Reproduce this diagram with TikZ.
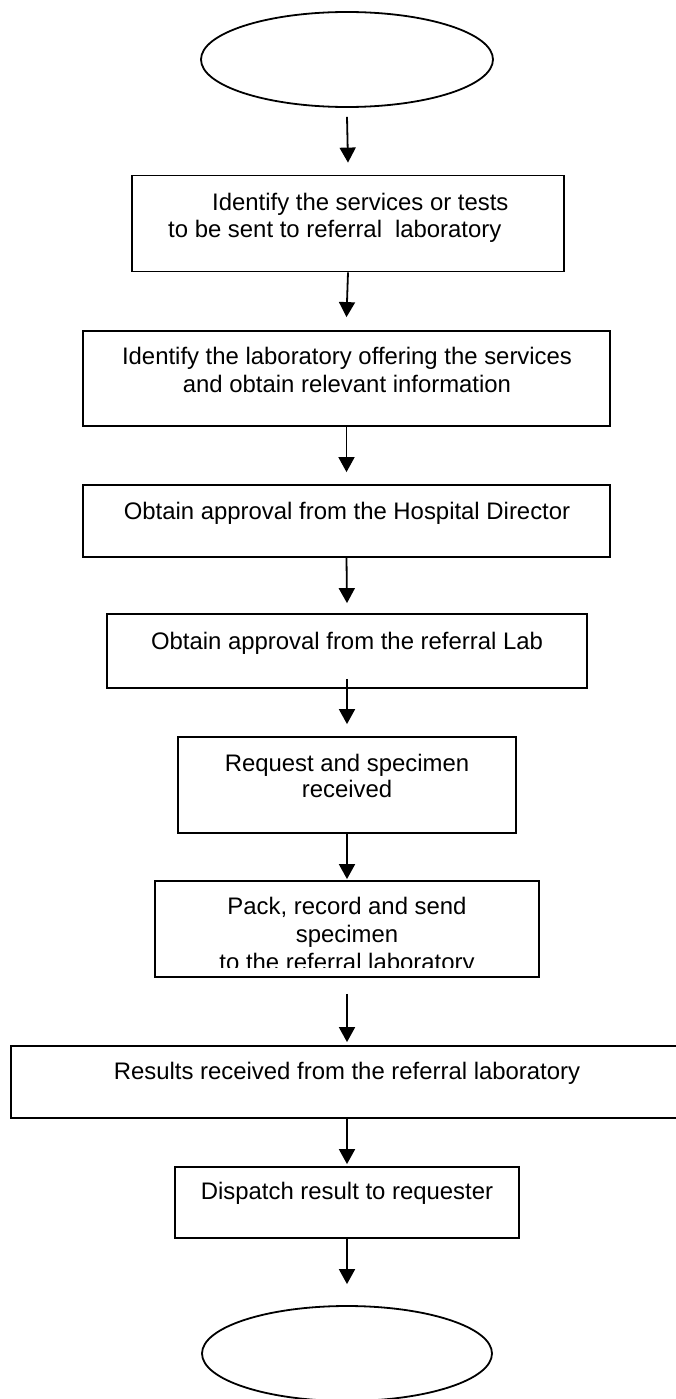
\documentclass[tikz,border=0pt]{standalone}
\usepackage{fontspec}
\setmainfont{Liberation Sans}
\usetikzlibrary{arrows.meta,calc,shapes.geometric}
\tikzset{
  box/.style={draw=black, line width=1.8pt, rectangle, inner sep=0pt},
  term/.style={draw=black, line width=1.8pt, ellipse, inner sep=0pt},
  txt/.style={inner sep=0pt, font=\fontsize{23.9}{28}\selectfont, anchor=base},
  arr/.style={line width=1.8pt, -{Triangle[width=16pt,length=15pt]}}
}
\begin{document}
\begin{tikzpicture}[x=1pt,y=-1pt]
\clip (0,0) rectangle (676,1399);
\fill[white] (0,0) rectangle (676,1399);
% terminals
\node[term, minimum width=292pt, minimum height=95pt] (e1) at (347,59.5) {};
\node[term, minimum width=290pt, minimum height=95pt] (e2) at (347,1353.5) {};
% boxes
\node[box, minimum width=432pt, minimum height=96pt] (b1) at (348,223.5) {};
\node[box, minimum width=527pt, minimum height=95pt] (b2) at (346.5,378.5) {};
\node[box, minimum width=527pt, minimum height=72pt] (b3) at (346.5,521) {};
\node[box, minimum width=480pt, minimum height=74pt] (b4) at (347,651) {};
\node[box, minimum width=338pt, minimum height=96pt] (b5) at (347,785) {};
\node[box, minimum width=384pt, minimum height=96pt] (b6) at (347,929) {};
\node[box, minimum width=672pt, minimum height=72pt] (b7) at (347,1082) {};
\node[box, minimum width=344pt, minimum height=71pt] (b8) at (347,1202.5) {};
% texts
\node[txt, anchor=base west] (t1a) at (212,210) {Identify the services or tests};
\node[txt, anchor=base west] (t1b) at (168,237) {to be sent to referral\hspace{13pt}laboratory};
\node[txt] (t2a) at (347,364) {Identify the laboratory offering the services};
\node[txt] (t2b) at (347,392) {and obtain relevant information};
\node[txt] (t3) at (347,519) {Obtain approval from the Hospital Director};
\node[txt] (t4) at (347,649) {Obtain approval from the referral Lab};
\node[txt] (t5a) at (347,771) {Request and specimen};
\node[txt] (t5b) at (347,797) {received};
\node[txt] (t6a) at (347,914) {Pack, record and send};
\node[txt] (t6b) at (347,942) {specimen};
\begin{scope}
\clip (155,881) rectangle (539,967);
\node[txt] (t6c) at (347,970) {to the referral laboratory};
\end{scope}
\node[txt] (t7) at (347,1079) {Results received from the referral laboratory};
\node[txt] (t8) at (347,1199) {Dispatch result to requester};
% connectors
\draw[arr] ($(e1.south)+(0,9)$) -- ($(b1.north)+(0,-12)$);
\draw[arr] (b1.south) -- ($(b2.north)+(0,-13)$);
\draw[arr] (b2.south) -- ($(b3.north)+(0,-12)$);
\draw[arr] (b3.south) -- ($(b4.north)+(0,-10)$);
\draw[arr] ($(b4.south)+(0,-10)$) -- ($(b5.north)+(0,-12)$);
\draw[arr] (b5.south) -- ($(b6.north)+(0,-1)$);
\draw[arr] ($(b6.south)+(0,16)$) -- ($(b7.north)+(0,-3)$);
\draw[arr] (b7.south) -- ($(b8.north)+(0,-2)$);
\draw[arr] (b8.south) -- ($(e2.north)+(0,-21)$);
\end{tikzpicture}
\end{document}
